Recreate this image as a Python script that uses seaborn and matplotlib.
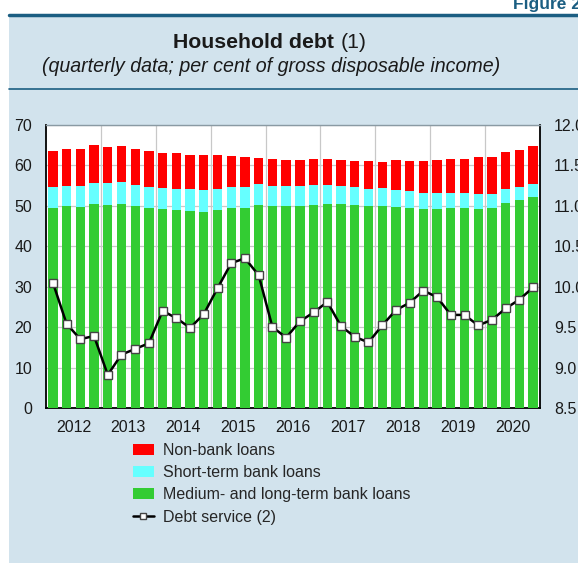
import matplotlib
matplotlib.use("Agg")
import matplotlib.pyplot as plt
import seaborn as sns
import pandas as pd
import numpy as np
from matplotlib.patches import Patch, Rectangle
from matplotlib.lines import Line2D

sns.set_theme(style="white")
plt.rcParams['font.family'] = ['Liberation Sans', 'DejaVu Sans']

years = ["2012", "2013", "2014", "2015", "2016", "2017", "2018", "2019", "2020"]
quarters = [f"{y}Q{q}" for y in years for q in range(1, 5)]

medium_long = [49.5, 49.8, 49.7, 50.3, 50.2, 50.4, 49.8, 49.5, 49.2, 48.9, 48.7, 48.5,
               48.8, 49.5, 49.5, 50.2, 49.9, 50.0, 49.9, 50.1, 50.3, 50.3, 50.1, 49.8,
               50.0, 49.6, 49.4, 49.2, 49.2, 49.4, 49.4, 49.2, 49.4, 50.7, 51.4, 52.1]
short_term = [5.2, 5.1, 5.2, 5.4, 5.3, 5.4, 5.4, 5.2, 5.2, 5.3, 5.3, 5.4,
              5.2, 5.2, 5.2, 5.1, 5.0, 4.9, 5.0, 4.9, 4.9, 4.6, 4.4, 4.4,
              4.3, 4.2, 4.2, 3.9, 3.9, 3.7, 3.7, 3.8, 3.6, 3.4, 3.3, 3.3]
non_bank = [8.8, 9.0, 9.2, 9.2, 9.1, 8.9, 8.8, 8.7, 8.6, 8.8, 8.6, 8.7,
            8.4, 7.6, 7.4, 6.5, 6.6, 6.5, 6.5, 6.5, 6.3, 6.4, 6.6, 6.8,
            6.5, 7.4, 7.5, 8.0, 8.2, 8.5, 8.5, 8.9, 8.9, 9.2, 9.1, 9.3]
debt_service = [10.05, 9.54, 9.35, 9.39, 8.91, 9.16, 9.23, 9.30, 9.70, 9.61, 9.49, 9.66,
                9.98, 10.29, 10.35, 10.14, 9.50, 9.37, 9.57, 9.68, 9.81, 9.51, 9.38, 9.31,
                9.52, 9.71, 9.80, 9.95, 9.87, 9.65, 9.65, 9.52, 9.59, 9.73, 9.84, 9.99]

c_red = "#ff0000"
c_cyan = "#66ffff"
c_green = "#33cc33"
bg = "#d2e3ed"
navy = "#1b5e82"

df = pd.DataFrame({"quarter": quarters, "medium": medium_long,
                   "short": short_term, "nonbank": non_bank, "ds": debt_service})
df["top_short"] = df["medium"] + df["short"]
df["top_all"] = df["top_short"] + df["nonbank"]
df["pos"] = np.arange(len(df))

fig = plt.figure(figsize=(5.78, 5.63), dpi=100)
fig.patch.set_facecolor("white")
# panel background
fig.patches.append(Rectangle((9 / 578, 0), 1, 1 - 15 / 563, transform=fig.transFigure,
                             facecolor=bg, edgecolor="none", zorder=-10))
fig.add_artist(Line2D([9 / 578, 1], [1 - 15 / 563] * 2, color=navy, lw=2.5))
fig.add_artist(Line2D([9 / 578, 1], [1 - 89 / 563] * 2, color=navy, lw=1.2))
fig.text(1.005, 1 - 4 / 563, "Figure 2", ha="right", va="center", fontsize=12.5,
         fontweight="bold", color=navy)
fig.text(334 / 578, 1 - 42 / 563, "Household debt", ha="right", va="center",
         fontsize=15.3, fontweight="bold", color="#1a1a1a")
fig.text(341 / 578, 1 - 42 / 563, "(1)", ha="left", va="center", fontsize=15.3,
         color="#1a1a1a")
fig.text(271 / 578, 1 - 67 / 563, "(quarterly data; per cent of gross disposable income)",
         ha="center", va="center", fontsize=14.1, style="italic", color="#1a1a1a")

ax = fig.add_axes([46 / 578, 1 - 408 / 563, 494 / 578, (408 - 124.7) / 563])
ax.set_facecolor("white")
w = 0.68
sns.barplot(data=df, x="quarter", y="top_all", color=c_red, width=w, ax=ax,
            saturation=1, zorder=2, linewidth=0)
sns.barplot(data=df, x="quarter", y="top_short", color=c_cyan, width=w, ax=ax,
            saturation=1, zorder=3, linewidth=0)
sns.barplot(data=df, x="quarter", y="medium", color=c_green, width=w, ax=ax,
            saturation=1, zorder=4, linewidth=0)

ax.set_xlim(-0.5, 35.5)
ax.set_ylim(0, 70)
ax.set_yticks(range(0, 71, 10))
ax.set_xticks([1.5 + 4 * k for k in range(9)])
ax.set_xticklabels(years)
ax.set_xticks([-0.5 + 4 * k for k in range(1, 9)], minor=True)
ax.tick_params(axis="x", which="both", length=0, pad=9, labelsize=11.5, colors="#1a1a1a")
ax.tick_params(axis="y", length=0, pad=10, labelsize=11.5, colors="#1a1a1a")
ax.grid(axis="y", color="#c8c8c8", lw=0.9, zorder=0)
ax.grid(axis="x", which="minor", color="#c8c8c8", lw=0.9, zorder=0)
ax.set_axisbelow(True)
ax.set_xlabel("")
ax.set_ylabel("")
for s in ["left", "bottom", "right"]:
    ax.spines[s].set_color("black")
    ax.spines[s].set_linewidth(1.3)
ax.spines["top"].set_color("#8a9aa3")
ax.spines["top"].set_linewidth(1.0)

ax2 = ax.twinx()
sns.lineplot(data=df, x="pos", y="ds", ax=ax2, color="black", lw=1.8,
             marker="s", markersize=5.5, markerfacecolor="white",
             markeredgecolor="#444444", markeredgewidth=1.0, zorder=6)
ax2.set_ylim(8.5, 12.0)
ax2.set_yticks(np.arange(8.5, 12.01, 0.5))
ax2.set_yticklabels([f"{v:.1f}" for v in np.arange(8.5, 12.01, 0.5)])
ax2.tick_params(axis="y", length=0, pad=10, labelsize=11.5, colors="#1a1a1a")
ax2.set_xlim(-0.5, 35.5)
ax2.set_xlabel("")
ax2.set_ylabel("")
ax2.grid(False)
for s in ax2.spines.values():
    s.set_visible(False)

handles = [Patch(facecolor=c_red, edgecolor="none"),
           Patch(facecolor=c_cyan, edgecolor="none"),
           Patch(facecolor=c_green, edgecolor="none"),
           Line2D([0], [0], color="black", lw=1.8, marker="s", markersize=5,
                  markerfacecolor="white", markeredgecolor="#444444")]
labels = ["Non-bank loans", "Short-term bank loans",
          "Medium- and long-term bank loans", "Debt service (2)"]
fig.legend(handles, labels, loc="upper left", bbox_to_anchor=(133 / 578, 1 - 443 / 563),
           frameon=False, fontsize=11.5, handlelength=1.3, handleheight=0.7,
           handletextpad=0.55, labelspacing=0.45, borderaxespad=0, borderpad=0)

fig.savefig("out.png", dpi=100, facecolor=fig.get_facecolor())
